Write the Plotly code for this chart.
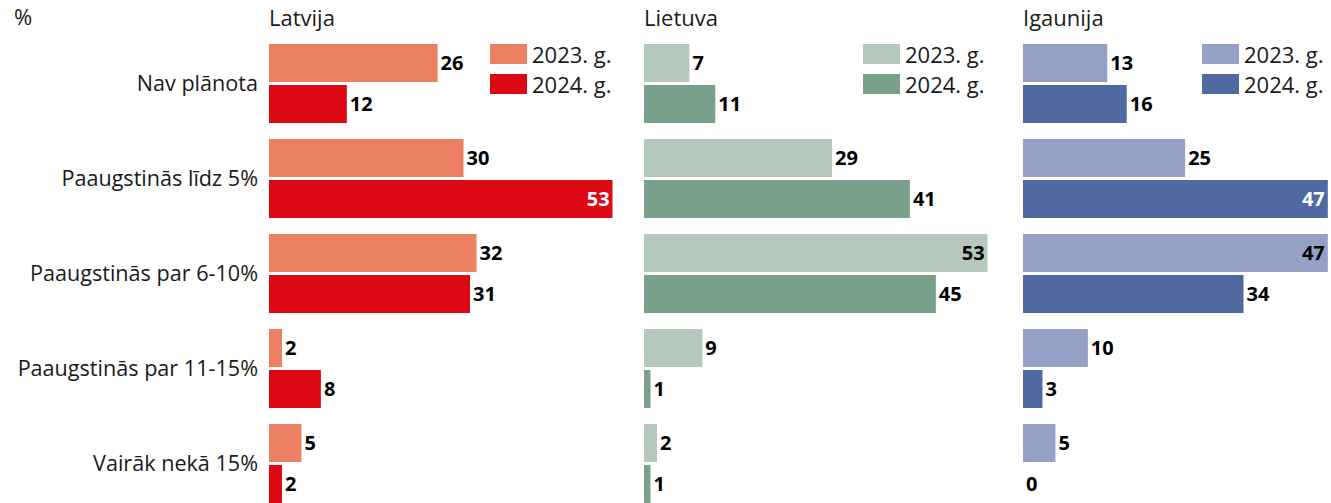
import plotly.graph_objects as go

W, H = 1331, 503
MT, MB = 30, 0

categories = ["Nav plānota", "Paaugstinās līdz 5%", "Paaugstinās par 6-10%",
              "Paaugstinās par 11-15%", "Vairāk nekā 15%"]
series_names = ["2023. g.", "2024. g."]
countries = ["Latvija", "Lietuva", "Igaunija"]

lv_2023 = [26, 30, 32, 2, 5]
lv_2024 = [12, 53, 31, 8, 2]
lt_2023 = [7, 29, 53, 9, 2]
lt_2024 = [11, 41, 45, 1, 1]
ee_2023 = [13, 25, 47, 10, 5]
ee_2024 = [16, 47, 34, 3, 0]

colors = {
    "Latvija": ["#EC8063", "#DC0814"],
    "Lietuva": ["#B4C8BC", "#79A089"],
    "Igaunija": ["#94A0C6", "#5069A0"],
}
inside_text_color = ["#000000", "#FFFFFF"]
data = {
    "Latvija": [lv_2023, lv_2024],
    "Lietuva": [lt_2023, lt_2024],
    "Igaunija": [ee_2023, ee_2024],
}

# panel geometry (pixels)
PX_PER_UNIT = 6.485
panel_left = {"Latvija": 269, "Lietuva": 644, "Igaunija": 1023}
legend_left = {"Latvija": 490, "Lietuva": 863, "Igaunija": 1202}

FONT = "Open Sans"
TXT = "#1a1a1a"

def px_x(x):
    return x / W

def px_y(y):
    return (H - MB - y) / (H - MT - MB)

fig = go.Figure()
axis_names = ["x", "x2", "x3"]
for ci, country in enumerate(countries):
    xa = axis_names[ci]
    for si, name in enumerate(series_names):
        vals = data[country][si]
        positions = ["inside" if v > 53 - 7 else "outside" for v in vals]
        tcolors = [inside_text_color[si] if p == "inside" else "#000000"
                   for p in positions]
        fig.add_trace(go.Bar(
            x=vals, y=categories, orientation="h",
            name=name, xaxis=xa, yaxis="y",
            marker=dict(color=colors[country][si], line=dict(width=0)),
            text=[str(v) for v in vals],
            textposition=positions,
            insidetextanchor="end",
            textfont=dict(family=FONT, size=20, color=tcolors, weight="bold"),
            constraintext="none",
            cliponaxis=False,
            offsetgroup=str(si),
            showlegend=False,
            hoverinfo="skip",
        ))

layout_axes = {}
for ci, country in enumerate(countries):
    left = panel_left[country]
    right_px = min(W, left + 53 * PX_PER_UNIT)
    rmax = (right_px - left) / PX_PER_UNIT
    key = "xaxis" if ci == 0 else f"xaxis{ci+1}"
    layout_axes[key] = dict(
        domain=[px_x(left), px_x(right_px)],
        range=[0, rmax],
        showgrid=False, zeroline=False, showticklabels=False,
        showline=False, ticks="", anchor="y",
        fixedrange=True,
    )

fig.update_layout(
    **layout_axes,
    yaxis=dict(
        domain=[0, 1],
        range=[4.416, -0.563],
        type="category",
        categoryorder="array", categoryarray=categories,
        showgrid=False, zeroline=False, showline=False, ticks="",
        ticklabelstandoff=10,
        tickfont=dict(family=FONT, size=21.6, color=TXT),
        anchor="x",
        fixedrange=True,
    ),
    barmode="group",
    bargap=0.1368,
    bargroupgap=0.0732,
    width=W, height=H,
    margin=dict(l=0, r=0, t=MT, b=MB, pad=0),
    paper_bgcolor="white", plot_bgcolor="white",
    showlegend=False,
)

annotations = [dict(
    text="%", x=px_x(12), y=px_y(16), xref="paper", yref="paper",
    xanchor="left", yanchor="middle", showarrow=False,
    font=dict(family=FONT, size=22, color=TXT),
)]
shapes = []
for country in countries:
    annotations.append(dict(
        text=country, x=px_x(panel_left[country] - 2), y=px_y(17),
        xref="paper", yref="paper", xanchor="left", yanchor="middle",
        showarrow=False, font=dict(family=FONT, size=22, color=TXT),
    ))
    lx = legend_left[country]
    for si, name in enumerate(series_names):
        top = 44 + si * 30
        shapes.append(dict(
            type="rect", xref="paper", yref="paper",
            x0=px_x(lx), x1=px_x(lx + 37), y0=px_y(top + 20), y1=px_y(top),
            fillcolor=colors[country][si], line=dict(width=0),
        ))
        annotations.append(dict(
            text=name, x=px_x(lx + 40), y=px_y(top + 10),
            xref="paper", yref="paper", xanchor="left", yanchor="middle",
            showarrow=False, font=dict(family=FONT, size=22, color=TXT),
        ))

fig.update_layout(annotations=annotations, shapes=shapes)
fig.write_html(
    "out.html",
    config={"displayModeBar": False, "staticPlot": True},
    post_script="document.body.style.margin='0px';document.body.style.overflow='hidden';",
)
